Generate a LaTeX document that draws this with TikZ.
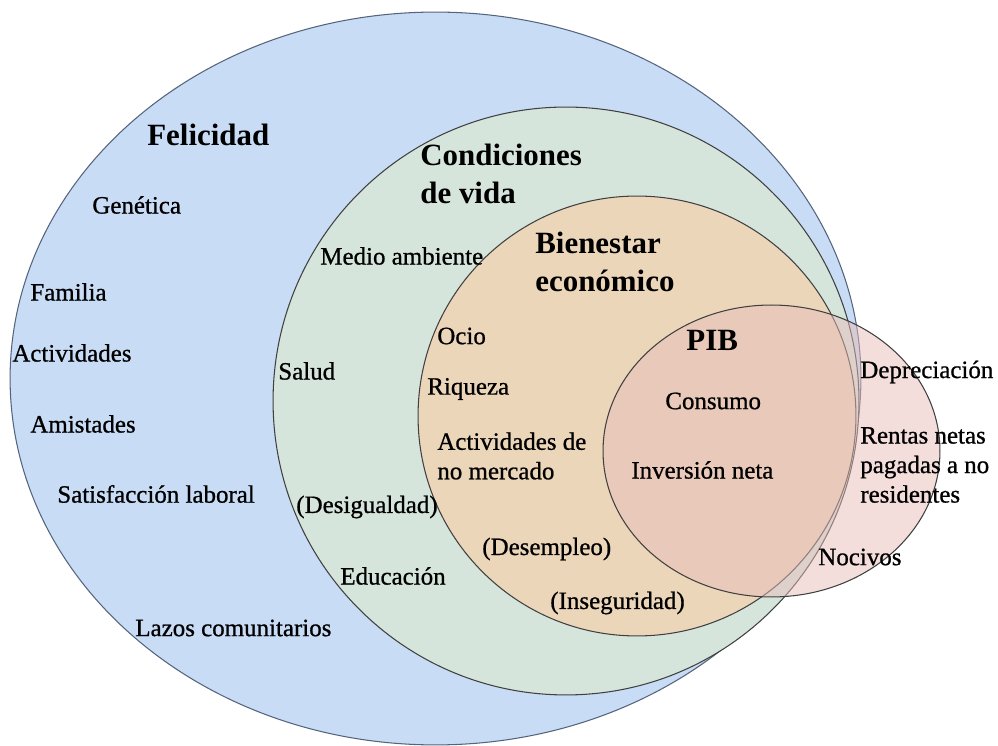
\documentclass[tikz,border=0pt]{standalone}
\usepackage{fontspec}
\setmainfont{Liberation Serif}
\newfontfamily\lblfont[FakeBold=0.8]{Liberation Serif}
\definecolor{cblue}{RGB}{200,220,245}
\definecolor{cblueline}{RGB}{85,100,125}
\definecolor{cgreen}{RGB}{214,229,220}
\definecolor{corange}{RGB}{236,214,186}
\definecolor{cpink}{RGB}{231,189,185}
\begin{document}
\begin{tikzpicture}[x=0.02cm,y=-0.02cm,
  lbl/.style={anchor=west,inner sep=0pt,align=left,font=\lblfont\fontsize{14.2}{16.8}\selectfont},
  ttl/.style={anchor=west,inner sep=0pt,align=left,font=\fontsize{17.6}{21.6}\selectfont\bfseries},
  ring/.style={draw=black!75,line width=0.6pt}]
\useasboundingbox (0,0) rectangle (998,746);
% circles
\path[ring,draw=cblueline,fill=cblue] (435.5,378.5) ellipse [x radius=8.51cm, y radius=7.33cm];
\path[ring,fill=cgreen] (566,401) ellipse [x radius=5.86cm, y radius=5.88cm];
\path[ring,fill=corange] (637,416) ellipse [x radius=4.38cm, y radius=4.40cm];
\path[ring,fill=cpink,fill opacity=0.5] (771.5,451) ellipse [x radius=3.37cm, y radius=2.92cm];
% Felicidad
\node[ttl] (fel) at (147,135) {Felicidad};
\node[lbl] (gen) at (92,205) {Genética};
\node[lbl] (fam) at (30,292) {Familia};
\node[lbl] (act) at (12,353) {Actividades};
\node[lbl] (ami) at (30,424) {Amistades};
\node[lbl] (sat) at (57,494) {Satisfacción laboral};
\node[lbl] (laz) at (135,628) {Lazos comunitarios};
% Condiciones de vida
\node[ttl] (cond) at (420,174) {Condiciones\\de vida};
\node[lbl] (med) at (320,256) {Medio ambiente};
\node[lbl] (sal) at (278,371) {Salud};
\node[lbl] (des) at (296,507) {(Desigualdad)};
\node[lbl] (edu) at (340,576) {Educación};
% Bienestar economico
\node[ttl] (bien) at (535,262) {Bienestar\\económico};
\node[lbl] (oci) at (437,336) {Ocio};
\node[lbl] (riq) at (427,389) {Riqueza};
\node[lbl] (anm) at (437,456) {Actividades de\\no mercado};
\node[lbl] (dem) at (482,549) {(Desempleo)};
\node[lbl] (ins) at (550,603) {(Inseguridad)};
% PIB
\node[ttl] (pib) at (686,340) {PIB};
\node[lbl] (con) at (665,401) {Consumo};
\node[lbl] (inv) at (631,470) {Inversión neta};
\node[lbl] (dep) at (860,372) {Depreciación};
\node[lbl] (ren) at (860,465) {Rentas netas\\pagadas a no\\residentes};
\node[lbl] (noc) at (818,557) {Nocivos};
\end{tikzpicture}
\end{document}
